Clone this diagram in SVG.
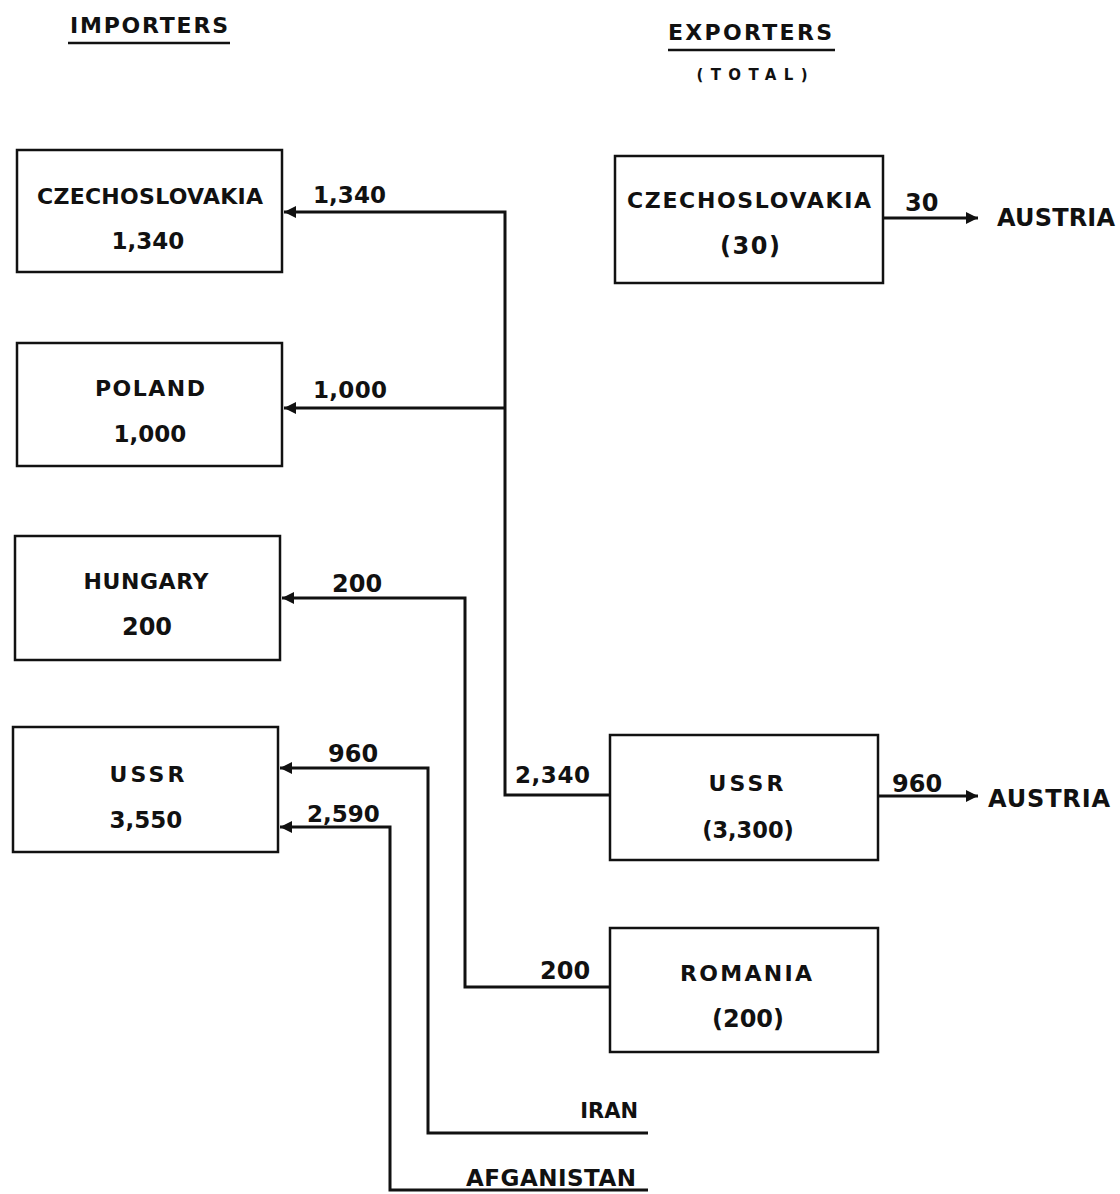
<svg xmlns="http://www.w3.org/2000/svg" width="1120" height="1194" viewBox="0 0 1120 1194">
<defs>
<style>
text{font-family:"DejaVu Sans","Liberation Sans",sans-serif;font-weight:bold;fill:#111;}
.t{font-size:22px;text-anchor:middle;}
.n{font-size:24px;text-anchor:middle;}
.h{font-size:22px;text-anchor:middle;}
.s{font-size:15px;text-anchor:middle;}
.l{font-size:24px;}
.box{fill:#fff;stroke:#111;stroke-width:2.5;}
.c{fill:none;stroke:#111;stroke-width:3;}
</style>
<marker id="ah" viewBox="0 0 10 10" refX="10" refY="5" markerWidth="5" markerHeight="4" orient="auto" markerUnits="strokeWidth">
<path d="M0,0 L10,5 L0,10 z" fill="#111"/>
</marker>
</defs>
<rect width="1120" height="1194" fill="#fff"/>
<g id="headers">
<text class="h" x="149" y="33" textLength="158" lengthAdjust="spacing">IMPORTERS</text>
<line x1="68" y1="43" x2="230" y2="43" stroke="#111" stroke-width="2.5"/>
<text class="h" x="750" y="40" textLength="164" lengthAdjust="spacing">EXPORTERS</text>
<line x1="668" y1="50" x2="835" y2="50" stroke="#111" stroke-width="2.5"/>
<text class="s" x="752" y="80" textLength="111" lengthAdjust="spacing">(TOTAL)</text>
</g>
<g id="imp-czech">
<rect class="box" x="17" y="150" width="265" height="122"/>
<text class="t" x="150" y="204" textLength="226" lengthAdjust="spacing">CZECHOSLOVAKIA</text>
<text class="n" x="148" y="249" style="font-size:23px">1,340</text>
</g>
<g id="imp-poland">
<rect class="box" x="17" y="343" width="265" height="123"/>
<text class="t" x="150" y="396" textLength="110" lengthAdjust="spacing">POLAND</text>
<text class="n" x="150" y="442" style="font-size:23px">1,000</text>
</g>
<g id="imp-hungary">
<rect class="box" x="15" y="536" width="265" height="124"/>
<text class="t" x="146" y="589" textLength="125" lengthAdjust="spacing">HUNGARY</text>
<text class="n" x="147" y="635">200</text>
</g>
<g id="imp-ussr">
<rect class="box" x="13" y="727" width="265" height="125"/>
<text class="t" x="147" y="782" textLength="75" lengthAdjust="spacing">USSR</text>
<text class="n" x="146" y="828" style="font-size:23px">3,550</text>
</g>
<g id="exp-czech">
<rect class="box" x="615" y="156" width="268" height="127"/>
<text class="t" x="749" y="208" textLength="244" lengthAdjust="spacing">CZECHOSLOVAKIA</text>
<text class="n" x="750" y="254" textLength="60" lengthAdjust="spacing">(30)</text>
</g>
<g id="exp-ussr">
<rect class="box" x="610" y="735" width="268" height="125"/>
<text class="t" x="746" y="791" textLength="75" lengthAdjust="spacing">USSR</text>
<text class="n" x="748" y="838" style="font-size:22.5px">(3,300)</text>
</g>
<g id="exp-romania">
<rect class="box" x="610" y="928" width="268" height="124"/>
<text class="t" x="746" y="981" textLength="132" lengthAdjust="spacing">ROMANIA</text>
<text class="n" x="748" y="1027">(200)</text>
</g>
<g id="dest-austria-1"><text class="l" x="997" y="226" textLength="118" lengthAdjust="spacing">AUSTRIA</text></g>
<g id="dest-austria-2"><text class="l" x="988" y="807" textLength="122" lengthAdjust="spacing">AUSTRIA</text></g>
<g id="src-iran"><text class="l" x="638" y="1118" style="font-size:21px;text-anchor:end">IRAN</text></g>
<g id="src-afganistan"><text class="l" x="466" y="1186" style="font-size:23px" textLength="170" lengthAdjust="spacing">AFGANISTAN</text></g>
<g id="connectors">
<polyline class="c" points="610,795 505,795 505,212 284,212" marker-end="url(#ah)"/>
<polyline class="c" points="505,408 284,408" marker-end="url(#ah)"/>
<polyline class="c" points="610,987 465,987 465,598 282,598" marker-end="url(#ah)"/>
<polyline class="c" points="648,1133 428,1133 428,768 280,768" marker-end="url(#ah)"/>
<polyline class="c" points="648,1190 390,1190 390,827 280,827" marker-end="url(#ah)"/>
<polyline class="c" points="883,218 978,218" marker-end="url(#ah)"/>
<polyline class="c" points="878,796 978,796" marker-end="url(#ah)"/>
</g>
<g id="labels">
<text class="l" x="313" y="203" style="font-size:23px" textLength="73" lengthAdjust="spacing">1,340</text>
<text class="l" x="313" y="398" style="font-size:23px" textLength="74" lengthAdjust="spacing">1,000</text>
<text class="l" x="332" y="592">200</text>
<text class="l" x="328" y="762">960</text>
<text class="l" x="307" y="822" style="font-size:23px">2,590</text>
<text class="l" x="515" y="783" style="font-size:23px" textLength="75" lengthAdjust="spacing">2,340</text>
<text class="l" x="540" y="979">200</text>
<text class="l" x="905" y="211">30</text>
<text class="l" x="892" y="792">960</text>
</g>
</svg>
